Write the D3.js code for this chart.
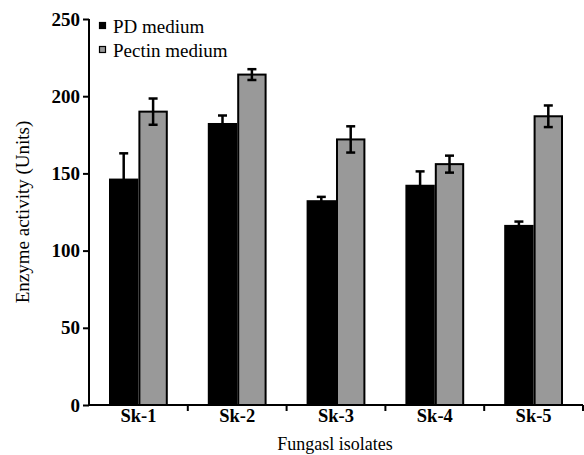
<!DOCTYPE html>
<html>
<head>
<meta charset="utf-8">
<script src="https://cdn.jsdelivr.net/npm/d3@7"></script>
<style>
body { margin: 0; background: #fff; }
</style>
</head>
<body>
<div id="chart"></div>
<script>
// data
var isolates = ["Sk-1", "Sk-2", "Sk-3", "Sk-4", "Sk-5"];
var series = ["PD medium", "Pectin medium"];
var pdValues = [146, 182, 132, 142, 116];
var pdErrors = [17, 5.5, 2.8, 9.3, 2.8];
var pectinValues = [190, 214, 172, 156, 187];
var pectinErrors = [8.5, 3.5, 8.5, 5.5, 7];
var yTicks = [0, 50, 100, 150, 200, 250];

var colors = ["#000000", "#999999"];
var serif = "'Liberation Serif'";

var svg = d3.select("#chart")
	.append("svg")
	.attr("width", 584)
	.attr("height", 455);

var x0 = d3.scaleBand().domain(isolates).range([89, 583]).paddingInner(0).paddingOuter(0);
var x1 = d3.scaleBand().domain(series).range([20, x0.bandwidth() - 20]);
var y = d3.scaleLinear().domain([0, 250]).range([405, 19]);

var rows = isolates.map(function(d, i) {
	return [
		{ isolate: d, s: series[0], v: pdValues[i], e: pdErrors[i], c: 0 },
		{ isolate: d, s: series[1], v: pectinValues[i], e: pectinErrors[i], c: 1 }
	];
});

var groups = svg.selectAll("g.grp")
	.data(rows)
	.enter().append("g")
	.attr("class", "grp")
	.attr("transform", function(d) { return "translate(" + x0(d[0].isolate) + ",0)"; });

groups.selectAll("rect")
	.data(function(d) { return d; })
	.enter().append("rect")
	.attr("x", function(d) { return x1(d.s) + 1; })
	.attr("y", function(d) { return y(d.v); })
	.attr("width", x1.bandwidth() - 2)
	.attr("height", function(d) { return y(0) - y(d.v); })
	.attr("fill", function(d) { return colors[d.c]; })
	.attr("stroke", "#000")
	.attr("stroke-width", 2);

// error bars
groups.selectAll("g.err")
	.data(function(d) { return d; })
	.enter().append("g")
	.attr("class", "err")
	.each(function(d) {
		var g = d3.select(this);
		var cx = x1(d.s) + x1.bandwidth() / 2;
		g.append("line")
			.attr("x1", cx).attr("x2", cx)
			.attr("y1", y(d.v + d.e)).attr("y2", y(d.v - d.e))
			.attr("stroke", "#000").attr("stroke-width", 2.5);
		[d.v + d.e, d.v - d.e].forEach(function(v) {
			g.append("line")
				.attr("x1", cx - 4.5).attr("x2", cx + 4.5)
				.attr("y1", y(v)).attr("y2", y(v))
				.attr("stroke", "#000").attr("stroke-width", 2.5);
		});
	});

// y axis
var yAxis = svg.append("g")
	.attr("transform", "translate(89,0)")
	.call(d3.axisLeft(y).tickValues(yTicks).tickSize(6).tickPadding(3));
yAxis.select(".domain").attr("stroke-width", 2).attr("d", "M0," + y(250) + "V" + y(0));
yAxis.selectAll(".tick line").attr("stroke-width", 2);
yAxis.selectAll(".tick text")
	.style("font-family", serif)
	.style("font-size", "19px")
	.style("font-weight", "bold")
	.attr("fill", "#000");

// x axis
var xAxis = svg.append("g")
	.attr("transform", "translate(0,405)")
	.call(d3.axisBottom(x0).tickSize(0).tickPadding(4));
xAxis.select(".domain").attr("stroke-width", 2).attr("d", "M89,0H583");
xAxis.selectAll(".tick text")
	.style("font-family", serif)
	.style("font-size", "18.5px")
	.style("font-weight", "bold")
	.attr("fill", "#000");

// tick marks at group boundaries
var bounds = isolates.map(function(d) { return x0(d) + x0.bandwidth(); });
xAxis.selectAll("line.bnd")
	.data(bounds)
	.enter().append("line")
	.attr("class", "bnd")
	.attr("x1", function(d) { return d; })
	.attr("x2", function(d) { return d; })
	.attr("y1", 0).attr("y2", 6)
	.attr("stroke", "#000").attr("stroke-width", 2);

// axis titles
svg.append("text")
	.attr("transform", "translate(29,212) rotate(-90)")
	.attr("text-anchor", "middle")
	.style("font-family", serif)
	.style("font-size", "19px")
	.text("Enzyme activity (Units)");

svg.append("text")
	.attr("x", 335)
	.attr("y", 450)
	.attr("text-anchor", "middle")
	.style("font-family", serif)
	.style("font-size", "18px")
	.text("Fungasl isolates");

// legend
var legend = svg.selectAll("g.leg")
	.data(series)
	.enter().append("g")
	.attr("class", "leg")
	.attr("transform", function(d, i) { return "translate(99," + (22 + i * 24) + ")"; });
legend.append("rect")
	.attr("x", 0.5).attr("y", 0.5)
	.attr("width", 6).attr("height", 6)
	.attr("fill", function(d, i) { return colors[i]; })
	.attr("stroke", "#000").attr("stroke-width", 1.2);
legend.append("text")
	.attr("x", 14)
	.attr("y", 11)
	.style("font-family", serif)
	.style("font-size", "19px")
	.text(function(d) { return d; });
</script>
</body>
</html>
